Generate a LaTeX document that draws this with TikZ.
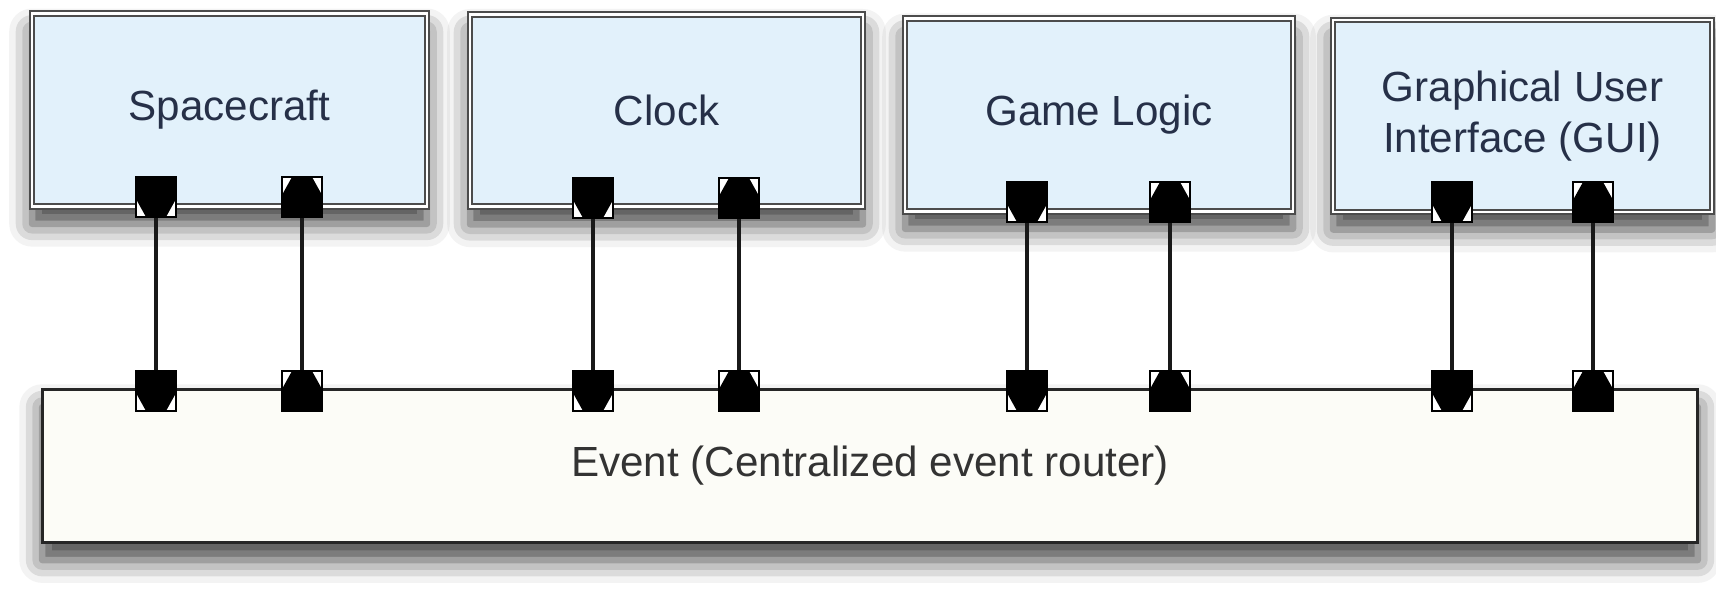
\documentclass[tikz,border=0pt]{standalone}
\usepackage{fontspec}
\setmainfont{Liberation Sans}
\usetikzlibrary{shadows.blur}
\definecolor{zblue}{RGB}{226,241,251}
\definecolor{zink}{RGB}{38,48,72}
\definecolor{zpaper}{RGB}{252,252,247}
\begin{document}
\begin{tikzpicture}[x=.02cm, y=-.02cm,
  zshad/.style={blur shadow={shadow xshift=0pt, shadow yshift=-10pt, shadow blur radius=13pt, shadow opacity=75}},
  zbox/.style={zshad, draw=black!70, double=white, double distance=1.6pt, line width=1.1pt, fill=zblue, text=zink, font=\fontsize{24}{29}\selectfont, align=center, minimum height=3.85cm},
  zbus/.style={zshad, draw=black!85, line width=1.8pt, fill=zpaper, text=black!80, font=\fontsize{24}{29}\selectfont, minimum width=33.12cm, minimum height=3.06cm},
  zport/.style={draw=black, line width=1.6pt, fill=white, minimum size=.8cm, inner sep=0pt, path picture={\fill[black] ([shift={(-.4cm,.4cm*#1)}]path picture bounding box.center) -- ++(.8cm,0) -- ++(0,-.44cm*#1) -- ++(-.2cm,-.36cm*#1) -- ++(-.4cm,0) -- ++(-.2cm,.36cm*#1) -- cycle;}},
  zline/.style={line width=1.8pt, draw=black!90}]
\useasboundingbox (0,0) rectangle (1716,588);
\node[zbus] (ev) at (870,466) {Event (Centralized event router)};
\node[zbox, minimum width=7.9cm] (sc) at (229.5,110) {Spacecraft};
\node[zbox, minimum width=7.86cm] (clk) at (666.5,110.5) {Clock};
\node[zbox, minimum width=7.76cm] (gl) at (1099,115) {Game Logic};
\node[zbox, minimum width=7.58cm, minimum height=3.84cm] (gui) at (1522.5,116) {Graphical User\\Interface (GUI)};
\foreach \i/\x/\y/\s in {1/156/197/1, 2/302/197/-1, 3/593/198/1, 4/739/198/-1, 5/1027/202/1, 6/1170/202/-1, 7/1452/202/1, 8/1593/202/-1}{
  \node[zport=\s] (t\i) at (\x,\y) {};
  \node[zport=\s] (b\i) at (\x,391) {};
  \draw[zline] (t\i) -- (b\i);
}
\end{tikzpicture}
\end{document}
